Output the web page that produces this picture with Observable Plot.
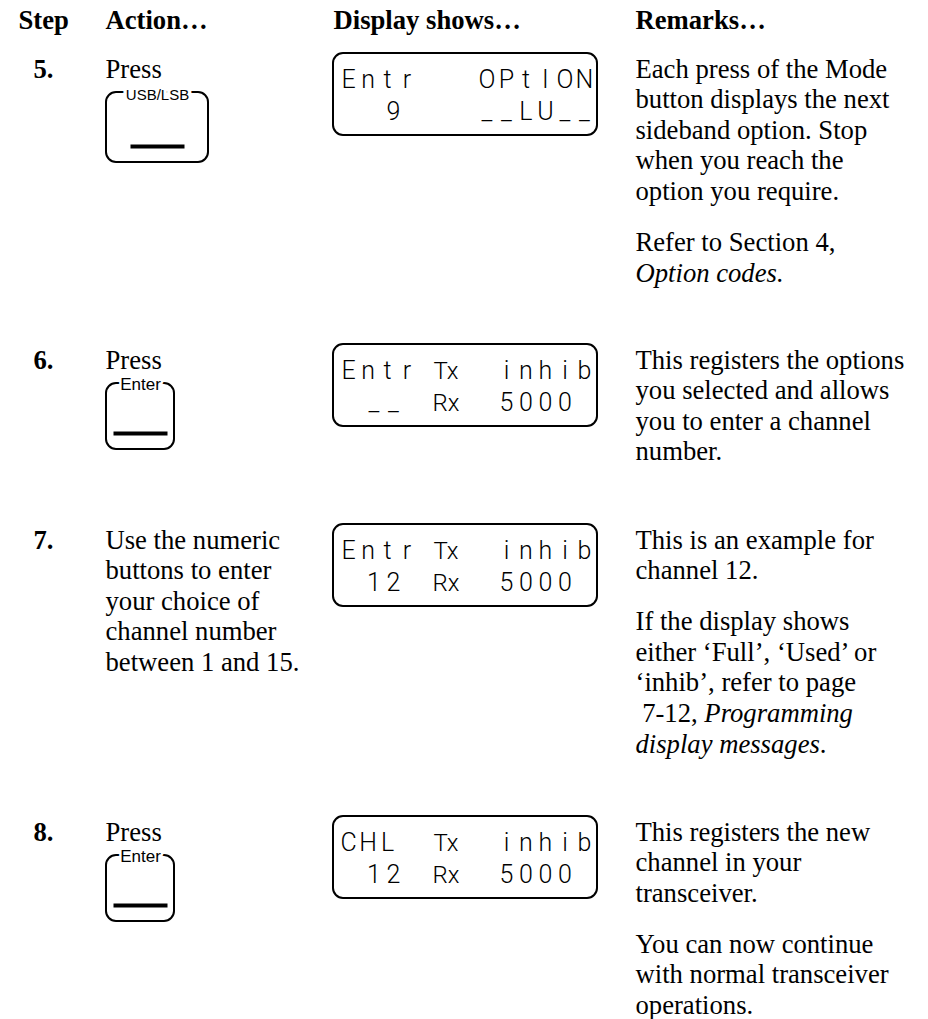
<!DOCTYPE html>
<html><head><meta charset="utf-8">
<script src="https://cdn.jsdelivr.net/npm/d3@7"></script>
<script src="https://cdn.jsdelivr.net/npm/@observablehq/plot@0.6"></script>
<style>html,body{margin:0;padding:0;background:#fff} svg{display:block}</style>
</head><body><div id="chart"></div>
<script>
// ---------- content ----------
const headers = ["Step", "Action…", "Display shows…", "Remarks…"];
const steps = ["5.", "6.", "7.", "8."];
const actions = [
  ["Press"],
  ["Press"],
  ["Use the numeric", "buttons to enter", "your choice of", "channel number", "between 1 and 15."],
  ["Press"]
];
const buttonLabels = ["USB/LSB", "Enter", null, "Enter"];
const lcdRow1Left = ["Entr", "Entr", "Entr", "CHL"];
const lcdRow1Tag = ["", "Tx", "Tx", "Tx"];
const lcdRow1Right = ["OPtION", "inhib", "inhib", "inhib"];
const lcdRow2Left = ["9", "__", "12", "12"];
const lcdRow2Tag = ["", "Rx", "Rx", "Rx"];
const lcdRow2Right = ["__LU__", "5000", "5000", "5000"];
const remarks = [
  [["Each press of the Mode", "button displays the next", "sideband option. Stop", "when you reach the", "option you require."],
   ["Refer to Section 4,", "*Option codes.*"]],
  [["This registers the options", "you selected and allows", "you to enter a channel", "number."]],
  [["This is an example for", "channel 12."],
   ["If the display shows", "either ‘Full’, ‘Used’ or", "‘inhib’, refer to page", "\u00a07-12, *Programming*", "*display messages*."]],
  [["This registers the new", "channel in your", "transceiver."],
   ["You can now continue", "with normal transceiver", "operations."]]
];

// ---------- layout ----------
const W = 928, H = 1019;
const colX = [18, 105, 333, 635];
const stepX = 33;
const headerBase = 28;
const rowBase = [77, 368, 548, 840];
const lineH = 30.6, paraGap = 51;
const serif = "Liberation Serif", fs = 26.67;
const btnW = {"USB/LSB": 102, "Enter": 68};
const btnH = {"USB/LSB": 70, "Enter": 66};
const btnX = 106, btnTopOff = 15;
const lcdW = 264, lcdH = 82, lcdTopOff = -24;
const lcdPitch = 19.5, lcdPad = 15, lcdBase1 = 34, lcdBase2 = 66;

const ctx = document.createElement("canvas").getContext("2d");
function measure(t, italic) { ctx.font = `${italic ? "italic " : ""}${fs}px "${serif}"`; return ctx.measureText(t).width; }

const headerData = headers.map((t, i) => ({x: colX[i], y: headerBase, text: t}));
const stepData = steps.map((t, i) => ({x: stepX, y: rowBase[i], text: t}));
const actionData = actions.flatMap((lines, i) => lines.map((t, k) => ({x: colX[1], y: rowBase[i] + k * lineH, text: t})));

const remarkData = [];
remarks.forEach((paras, i) => {
  let y = rowBase[i];
  paras.forEach((lines, p) => {
    if (p > 0) y += paraGap - lineH;
    lines.forEach(line => {
      let x = colX[3];
      line.split("*").forEach((t, k) => {
        if (!t) return;
        const italic = k % 2 === 1;
        remarkData.push({x, y, text: t, italic});
        x += measure(t, italic);
      });
      y += lineH;
    });
  });
});

const buttons = buttonLabels.map((label, i) => {
  if (!label) return null;
  const y1 = rowBase[i] + btnTopOff, x2 = btnX + btnW[label], y2 = y1 + btnH[label];
  return {label, x1: btnX, x2, y1, y2, cx: (btnX + x2) / 2, uy: y2 - 16};
}).filter(d => d);

const displays = steps.map((s, i) => {
  const y1 = rowBase[i] + lcdTopOff;
  return {x1: colX[2], x2: colX[2] + lcdW, y1, y2: y1 + lcdH};
});

const lcdChars = [], lcdTags = [];
displays.forEach((d, i) => {
  const cell = c => d.x1 + lcdPad + c * lcdPitch;
  const rStart = 13.1 - Math.max(lcdRow1Right[i].length, lcdRow2Right[i].length);
  const push = (str, c0, base) => [...str].forEach((ch, k) => { if (ch !== " ") lcdChars.push({x: cell(c0 + k), y: d.y1 + base, text: ch}); });
  push(lcdRow1Left[i], 0, lcdBase1);
  push(lcdRow1Right[i], rStart, lcdBase1);
  push(lcdRow2Left[i], 2.3 - lcdRow2Left[i].length + 1, lcdBase2);
  push(lcdRow2Right[i], rStart, lcdBase2);
  if (lcdRow1Tag[i]) lcdTags.push({x: cell(5), y: d.y1 + lcdBase1, text: lcdRow1Tag[i]});
  if (lcdRow2Tag[i]) lcdTags.push({x: cell(5), y: d.y1 + lcdBase2, text: lcdRow2Tag[i]});
});

const txt = {x: "x", y: "y", text: "text", textAnchor: "start", lineAnchor: "bottom", fill: "black"};

const chart = Plot.plot({
  width: W, height: H, margin: 0,
  x: {domain: [0, W], range: [0, W], axis: null},
  y: {domain: [0, H], range: [0, H], axis: null},
  style: {background: "white"},
  marks: [
    Plot.text(headerData, {...txt, fontFamily: serif, fontSize: fs, fontWeight: "bold"}),
    Plot.text(stepData, {...txt, fontFamily: serif, fontSize: fs, fontWeight: "bold"}),
    Plot.text(actionData, {...txt, fontFamily: serif, fontSize: fs}),
    Plot.text(remarkData.filter(d => !d.italic), {...txt, fontFamily: serif, fontSize: fs}),
    Plot.text(remarkData.filter(d => d.italic), {...txt, fontFamily: serif, fontSize: fs, fontStyle: "italic"}),
    Plot.rect(buttons, {x1: "x1", x2: "x2", y1: "y1", y2: "y2", rx: 10, ry: 10, fill: "none", stroke: "black", strokeWidth: 2}),
    Plot.link(buttons, {x1: d => d.cx - 27, x2: d => d.cx + 27, y1: "uy", y2: "uy", stroke: "black", strokeWidth: 4}),
    Plot.text(buttons.filter(d => d.label === "USB/LSB"), {x: "cx", y: d => d.y1 + 7, text: "label", lineAnchor: "bottom", fontFamily: "Liberation Sans", fontSize: 15, fill: "black", stroke: "white", strokeWidth: 7, paintOrder: "stroke"}),
    Plot.text(buttons.filter(d => d.label === "Enter"), {x: "cx", y: d => d.y1 + 6, text: "label", lineAnchor: "bottom", fontFamily: "Liberation Sans", fontSize: 17, fill: "black", stroke: "white", strokeWidth: 5, paintOrder: "stroke"}),
    Plot.rect(displays, {x1: "x1", x2: "x2", y1: "y1", y2: "y2", rx: 10, ry: 10, fill: "none", stroke: "black", strokeWidth: 2}),
    Plot.text(lcdChars, {x: "x", y: "y", text: "text", lineAnchor: "bottom", textAnchor: "middle", fontFamily: "Roboto", fontWeight: 300, fontSize: 25, fill: "black"}),
    Plot.text(lcdTags, {x: "x", y: "y", text: "text", lineAnchor: "bottom", textAnchor: "middle", fontFamily: "Roboto", fontWeight: 300, fontSize: 24, fill: "black"})
  ]
});
document.getElementById("chart").appendChild(chart);
</script>
</body></html>
